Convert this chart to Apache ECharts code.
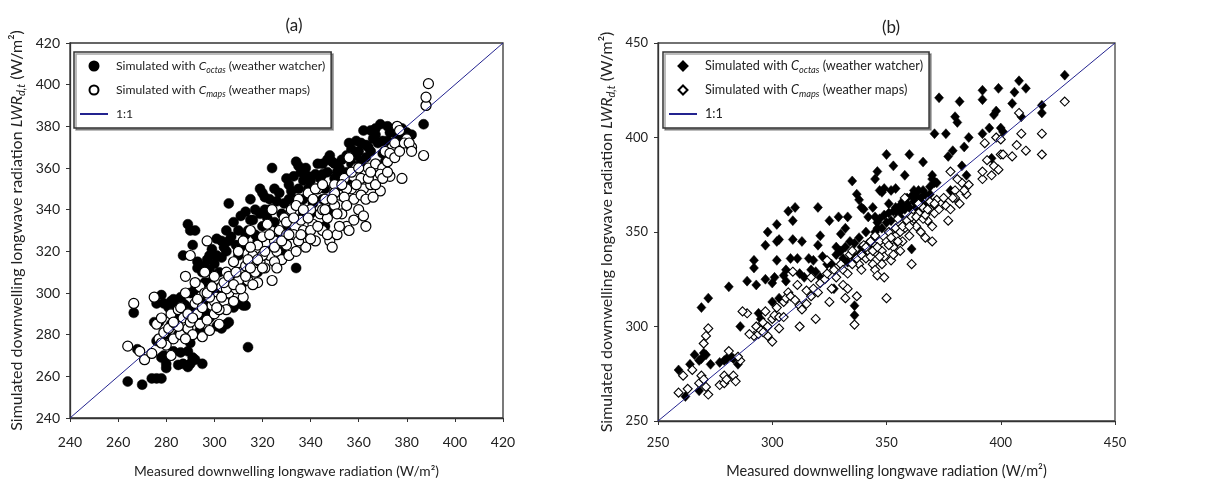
<!DOCTYPE html>
<html>
<head>
<meta charset="utf-8">
<script src="https://cdn.jsdelivr.net/npm/echarts@6/dist/echarts.min.js"></script>
<style>
  html, body { margin: 0; padding: 0; background: #ffffff; }
  #main { width: 1205px; height: 479px; }
</style>
</head>
<body>
<div id="main"></div>
<script>
// panel (a): measured vs simulated, circles
var ticksA = [240, 420, 20];
var octasA = [
  [264, 257.5], [270, 256], [274, 259], [276, 259], [278, 259], [280, 264], [280, 266], [285, 265.5],
  [287, 266], [289, 264.5], [290, 266], [291, 269], [292, 268], [289, 272], [290, 276], [295, 266],
  [286, 271.5], [283, 272], [278, 269], [279, 270], [276, 277], [275, 286], [276, 295], [278, 299],
  [279, 295], [281, 293], [283, 291], [285, 288], [287, 295], [288, 294], [288, 291], [290, 292],
  [292, 289], [294, 288], [296, 291], [298, 288], [300, 290], [301, 284], [303, 283], [305, 285],
  [306, 286], [308, 293], [310, 295], [312, 294], [313, 294], [314, 274], [266.5, 290.5], [268, 273],
  [282, 285], [287, 318], [289, 333], [290, 330], [291, 323], [292, 330], [293, 315], [293, 312],
  [295, 310], [296, 313], [297, 316], [298, 311], [300, 314], [301, 318], [302, 310], [303, 317],
  [304, 322], [305, 320], [306, 325], [306, 343], [308, 334], [310, 330], [311, 337], [313, 339],
  [315, 345], [316, 335], [317, 328], [319, 350], [320, 348], [321, 340], [322, 336], [323, 345],
  [324, 360], [325, 334], [326, 344], [328, 338], [330, 355], [331, 352], [332, 349], [333, 345],
  [334, 363], [335, 361], [336, 358], [337, 354], [338, 360], [339, 356], [340, 354], [342, 357],
  [343, 350], [344, 355], [345, 357], [346, 350], [347, 358], [348, 366], [349, 363], [350, 355],
  [351, 358], [352, 360], [354, 357], [355, 366], [356, 372], [357, 369], [358, 367], [359, 373],
  [360, 368], [361, 363], [362, 378], [363, 371], [364, 370], [365, 368], [366, 374], [367, 379],
  [368, 372], [369, 381], [370, 367], [371, 363], [372, 373], [373, 377], [374, 369], [376, 375],
  [378, 376], [380, 377], [382, 376], [387, 381], [388, 390], [334, 312], [300, 300], [298, 305],
  [296, 296], [294, 282], [303, 302], [312, 305], [318, 310], [322, 320], [327, 326], [330, 330],
  [340, 338], [345, 345], [348, 340], [346, 332], [352, 348], [356, 352], [337, 338], [328, 320],
  [318, 325], [310, 318], [306, 305], [285, 280], [280, 280], [283, 297], [277, 286], [291, 300],
  [314, 330], [320, 332], [282, 296], [284, 294], [286, 298], [288, 282], [290, 300], [292, 302],
  [294, 296], [296, 305], [298, 318], [299, 321], [301, 326], [303, 325], [305, 330], [307, 327],
  [309, 323], [311, 322], [313, 328], [315, 335], [317, 340], [319, 338], [321, 346], [323, 340],
  [325, 350], [327, 348], [329, 343], [331, 345], [333, 356], [335, 350], [337, 345], [339, 350],
  [341, 343], [343, 362], [345, 362], [347, 364], [350, 362], [353, 364], [355, 358], [357, 362],
  [359, 366], [361, 372], [363, 365], [365, 378], [367, 376], [370, 373], [372, 380], [375, 378],
  [378, 379]
];
var mapsA = [
  [264, 274.5], [266.5, 295], [269, 272], [271, 268], [274, 271], [275, 298], [276, 285], [277, 278],
  [278, 288], [279, 281], [280, 275], [281, 283], [282, 290], [283, 278], [284, 285], [285, 292],
  [286, 280], [287, 288], [288, 300], [288, 308], [289, 283], [290, 286], [290, 318], [291, 280],
  [292, 295], [293, 290], [294, 285], [294, 303], [295, 279], [296, 300], [297, 287], [297, 325],
  [298, 282], [299, 294], [300, 290], [300, 308], [301, 298], [302, 285], [303, 303], [304, 296],
  [305, 292], [305, 310], [306, 300], [307, 305], [308, 296], [308, 315], [309, 302], [310, 320],
  [311, 310], [312, 298], [312, 325], [313, 313], [314, 306], [315, 330], [316, 318], [317, 310],
  [318, 305], [318, 323], [319, 315], [320, 327], [321, 312], [322, 333], [323, 318], [324, 306],
  [324, 340], [325, 325], [326, 320], [327, 330], [328, 316], [329, 336], [330, 323], [331, 318],
  [332, 340], [333, 328], [334, 320], [335, 345], [336, 335], [337, 330], [338, 322], [339, 348],
  [340, 340], [341, 333], [342, 325], [343, 350], [344, 338], [345, 330], [346, 345], [347, 336],
  [348, 325], [349, 322], [350, 352], [350, 342], [351, 328], [352, 347], [353, 338], [354, 355],
  [355, 332], [356, 330], [356, 365], [357, 350], [358, 345], [359, 360], [360, 340], [361, 355],
  [362, 337], [362, 350], [363, 332], [364, 360], [365, 352], [366, 356], [367, 362], [368, 355],
  [369, 349], [370, 360], [372, 363], [373, 356], [374, 370], [375, 372], [376, 380], [377, 378],
  [378, 355], [380, 374], [382, 370], [387, 366], [388, 390], [388, 394], [389, 400.5], [285, 284],
  [288, 278], [282, 270], [278, 276], [300, 296], [302, 292], [296, 310], [292, 305], [310, 306],
  [314, 316], [320, 318], [325, 315], [330, 328], [335, 325], [340, 330], [345, 340], [350, 348],
  [355, 350], [315, 322], [305, 302], [298, 298], [283, 286], [286, 293], [289, 290], [291, 288],
  [293, 297], [295, 293], [297, 300], [299, 303], [301, 293], [303, 298], [304, 305], [306, 308],
  [308, 304], [309, 310], [311, 302], [313, 308], [315, 312], [316, 304], [318, 316], [320, 312],
  [321, 320], [323, 328], [325, 322], [326, 312], [328, 325], [330, 334], [331, 328], [333, 336],
  [334, 342], [336, 328], [337, 340], [339, 336], [340, 326], [341, 345], [342, 350], [343, 332],
  [345, 352], [346, 340], [347, 328], [349, 345], [351, 338], [352, 332], [353, 352], [354, 346],
  [355, 342], [357, 358], [358, 335], [359, 352], [360, 360], [361, 347], [363, 345], [364, 355],
  [365, 358], [366, 346], [367, 352], [369, 357], [370, 355], [371, 368], [372, 358], [373, 367],
  [375, 365], [377, 368], [379, 372], [381, 372], [382, 368]
];

// panel (b): measured vs simulated, diamonds
var ticksB = [250, 450, 50];
var octasB = [
  [259, 277], [262, 263], [264, 280], [266, 285], [268, 282], [269, 283], [269, 310], [270, 286],
  [271, 285], [272, 315], [273, 280], [268, 266], [277, 281], [279, 282], [280, 283], [281, 321],
  [282, 284], [283, 283], [285, 280], [286, 300], [289, 324], [292, 335], [292, 331], [293, 322],
  [294, 307], [295, 304], [297, 343], [298, 350], [297, 325], [300, 313], [301, 326], [302, 345],
  [302, 354], [303, 346], [302, 335], [303, 315], [305, 327], [306, 324], [307, 361], [308, 336],
  [309, 356], [309, 346], [310, 363], [311, 336], [312, 328], [313, 345], [316, 336], [317, 330],
  [319, 329], [320, 343], [320, 363], [321, 326], [321, 348], [322, 337], [325, 356], [326, 333],
  [327, 320], [328, 342], [329, 358], [330, 349], [331, 336], [333, 358], [334, 345], [335, 377],
  [336, 336], [336, 311], [336, 306], [337, 370], [338, 367], [339, 363], [340, 362], [342, 358],
  [343, 345], [344, 363], [345, 378], [346, 382], [347, 372], [348, 371], [349, 373], [350, 391],
  [351, 365], [352, 372], [353, 385], [354, 373], [355, 360], [356, 358], [357, 362], [358, 380],
  [359, 365], [360, 391], [361, 341], [362, 372], [363, 363], [365, 366], [366, 387], [368, 365],
  [369, 370], [370, 380], [371, 376], [371, 402], [373, 421], [376, 402], [377, 390], [378, 372],
  [379, 393], [380, 411], [381, 408], [382, 419], [383, 385], [384, 395], [385, 380], [386, 400],
  [392, 420], [392, 425], [392, 402], [395, 405], [396, 389], [397, 412], [398, 414], [399, 426],
  [400, 405], [401, 403], [405, 418], [406, 424], [408, 430], [409, 411], [411, 426], [418, 413],
  [418, 417], [428, 433], [340, 340], [342, 344], [345, 350], [348, 352], [350, 355], [352, 356],
  [355, 358], [358, 362], [360, 363], [362, 366], [365, 368], [367, 370], [345, 358], [346, 355],
  [343, 341], [338, 338], [335, 338], [333, 334], [330, 340], [332, 342], [336, 344], [338, 347],
  [339, 342], [341, 350], [344, 346], [346, 352], [347, 357], [349, 359], [351, 360], [353, 361],
  [354, 363], [356, 364], [357, 366], [359, 368], [361, 369], [363, 369], [364, 372], [366, 372],
  [369, 374], [370, 378], [372, 376], [332, 352], [328, 338], [324, 333], [318, 335], [314, 326],
  [306, 330], [300, 323]
];
var mapsB = [
  [259, 265], [261, 274], [263, 267], [265, 277], [268, 270], [269, 274], [270, 272], [270, 291],
  [271, 295], [272, 299], [272, 264], [271, 268], [277, 269], [279, 270], [279, 274], [280, 272],
  [281, 287], [283, 274], [284, 271], [286, 282], [289, 307], [292, 295], [293, 300], [294, 296],
  [295, 298], [296, 302], [297, 308], [298, 300], [300, 292], [300, 304], [301, 306], [302, 310],
  [303, 299], [303, 305], [305, 313], [306, 315], [307, 318], [308, 316], [309, 329], [310, 314],
  [311, 322], [312, 300], [312, 311], [313, 309], [315, 319], [317, 326], [318, 320], [319, 304],
  [320, 318], [321, 323], [323, 325], [324, 335], [324, 328], [325, 313], [326, 320], [327, 330],
  [328, 326], [330, 333], [331, 322], [332, 315], [333, 320], [334, 338], [335, 340], [336, 301],
  [337, 316], [338, 333], [339, 330], [340, 343], [341, 336], [342, 340], [343, 337], [344, 333],
  [345, 330], [345, 348], [346, 327], [347, 345], [348, 340], [349, 337], [349, 326], [350, 315],
  [350, 345], [351, 350], [352, 335], [353, 342], [354, 348], [355, 357], [356, 340], [357, 345],
  [358, 352], [358, 368], [360, 348], [361, 333], [362, 357], [363, 353], [364, 360], [365, 350],
  [366, 363], [367, 347], [368, 356], [369, 362], [370, 345], [370, 353], [371, 360], [372, 367],
  [374, 365], [376, 364], [377, 356], [378, 362], [378, 382], [380, 372], [380, 368], [382, 365],
  [383, 376], [385, 370], [386, 375], [392, 378], [392, 382], [393, 397], [394, 388], [396, 380],
  [397, 385], [398, 400], [399, 383], [400, 399], [400, 391], [401, 391], [405, 390], [407, 396],
  [408, 413], [409, 402], [411, 393], [418, 402], [418, 391], [428, 419], [331, 330], [333, 328],
  [335, 333], [337, 336], [339, 338], [341, 342], [343, 345], [344, 340], [346, 342], [347, 337],
  [348, 333], [351, 343], [352, 347], [353, 338], [354, 352], [355, 345], [356, 350], [357, 353],
  [359, 356], [360, 353], [361, 358], [363, 358], [364, 365], [366, 357], [367, 359], [368, 362],
  [369, 366], [371, 365], [373, 362], [375, 368], [379, 368], [381, 378], [384, 372], [315, 312],
  [317, 316], [305, 305], [298, 295], [296, 297], [290, 296], [285, 284], [287, 308]
];

var legendText = {
  octasA: 'Simulated with {i|C}{s|octas} (weather watcher)',
  mapsA: 'Simulated with {i|C}{s|maps} (weather maps)',
  lineA: '1:1',
  octasB: 'Simulated with {i|C}{s|octas} (weather watcher)',
  mapsB: 'Simulated with {i|C}{s|maps} (weather maps)',
  lineB: '1:1'
};

// legend icons padded to the 28x9 legend box so they keep their shape
var iconCircle = 'circle';
var iconDiamond = 'path://M0,0L0,0M14,0L18.5,4.5L14,9L9.5,4.5ZM28,9L28,9';

var chart = echarts.init(document.getElementById('main'));

function axisNameRich(size) {
  return {
    fontFamily: 'Lato', fontSize: size, color: '#222', lineHeight: 20,
    rich: {
      i: { fontFamily: 'Lato', fontSize: size, fontStyle: 'italic', color: '#222', lineHeight: 20 },
      s: { fontFamily: 'Lato', fontSize: size - 5, fontStyle: 'italic', color: '#222', lineHeight: 10, verticalAlign: 'bottom' }
    }
  };
}

function makeAxis(t, idx, isY, nameGap, nameSize, labelSize, margin) {
  return {
    type: 'value', gridIndex: idx, min: t[0], max: t[1], interval: t[2],
    name: isY ? 'Simulated downwelling longwave radiation {i|LWR}{s|d,t} (W/m²)' : 'Measured downwelling longwave radiation (W/m²)',
    nameLocation: 'middle', nameGap: nameGap, nameMoveOverlap: false,
    nameTextStyle: axisNameRich(nameSize),
    axisLine: { show: true, lineStyle: { color: '#333', width: 1.3 } },
    axisTick: { show: true, inside: false, length: 4, lineStyle: { color: '#333' } },
    axisLabel: { fontFamily: 'Lato', fontSize: labelSize, color: '#222', margin: margin },
    splitLine: { show: false }
  };
}

function makeLegend(names, left, fs, icon) {
  return {
    data: [
      { name: names[0], icon: icon },
      { name: names[1], icon: icon },
      { name: names[2], itemStyle: { opacity: 0 } }
    ],
    orient: 'vertical', left: left, top: 52,
    itemWidth: 28, itemHeight: 9, itemGap: 6, symbolKeepAspect: true,
    padding: [5, 6, 5, 5],
    borderColor: '#333', borderWidth: 1.5,
    backgroundColor: '#fff',
    shadowColor: 'rgba(0,0,0,0.35)', shadowOffsetX: 2, shadowOffsetY: 2, shadowBlur: 0,
    formatter: function (name) { return legendText[name]; },
    textStyle: {
      fontFamily: 'Lato', fontSize: fs, color: '#222', lineHeight: 18, padding: [0, 0, 0, 3],
      rich: {
        i: { fontFamily: 'Lato', fontSize: fs, fontStyle: 'italic', color: '#222', lineHeight: 18 },
        s: { fontFamily: 'Lato', fontSize: fs - 3.5, fontStyle: 'italic', color: '#222', lineHeight: 9, verticalAlign: 'bottom' }
      }
    }
  };
}

var option = {
  backgroundColor: '#ffffff',
  animation: false,
  title: [
    { text: '(a)', left: 289, top: 12, textAlign: 'center', textStyle: { fontFamily: 'Lato', fontSize: 17, fontWeight: 'normal', color: '#222' } },
    { text: '(b)', left: 886, top: 14, textAlign: 'center', textStyle: { fontFamily: 'Lato', fontSize: 17, fontWeight: 'normal', color: '#222' } }
  ],
  grid: [
    { left: 70, right: 702, top: 43, bottom: 61, outerBoundsMode: 'none', show: true, borderColor: '#333', borderWidth: 1.3, backgroundColor: 'transparent' },
    { left: 658, right: 90, top: 43, bottom: 58, outerBoundsMode: 'none', show: true, borderColor: '#444', borderWidth: 1.3, backgroundColor: 'transparent' }
  ],
  legend: [
    makeLegend(['octasA', 'mapsA', 'lineA'], 74, 12.2, iconCircle),
    makeLegend(['octasB', 'mapsB', 'lineB'], 663, 12.7, iconDiamond)
  ],
  xAxis: [
    makeAxis(ticksA, 0, false, 44, 13.8, 14, 17),
    makeAxis(ticksB, 1, false, 40, 14.5, 13, 15)
  ],
  yAxis: [
    makeAxis(ticksA, 0, true, 43, 16, 14, 10),
    makeAxis(ticksB, 1, true, 41, 16, 13, 10)
  ],
  series: [
    {
      name: 'octasA', type: 'scatter', xAxisIndex: 0, yAxisIndex: 0,
      symbol: 'circle', symbolSize: 10, data: octasA,
      itemStyle: { color: '#000', borderColor: '#000', borderWidth: 0.5, opacity: 1 }
    },
    {
      name: 'mapsA', type: 'scatter', xAxisIndex: 0, yAxisIndex: 0,
      symbol: 'circle', symbolSize: 10, data: mapsA,
      itemStyle: { color: '#fff', borderColor: '#000', borderWidth: 1.2, opacity: 1 }
    },
    {
      name: 'lineA', type: 'line', xAxisIndex: 0, yAxisIndex: 0,
      data: [[ticksA[0], ticksA[0]], [ticksA[1], ticksA[1]]],
      symbol: 'none', lineStyle: { color: '#23238f', width: 1 }, itemStyle: { color: '#23238f' }, z: 5
    },
    {
      name: 'octasB', type: 'scatter', xAxisIndex: 1, yAxisIndex: 1,
      symbol: 'diamond', symbolSize: [9, 10], data: octasB,
      itemStyle: { color: '#000', borderColor: '#000', borderWidth: 0.5, opacity: 1 }
    },
    {
      name: 'mapsB', type: 'scatter', xAxisIndex: 1, yAxisIndex: 1,
      symbol: 'diamond', symbolSize: [9, 9], data: mapsB,
      itemStyle: { color: '#fff', borderColor: '#000', borderWidth: 1.1, opacity: 1 }
    },
    {
      name: 'lineB', type: 'line', xAxisIndex: 1, yAxisIndex: 1,
      data: [[ticksB[0], ticksB[0]], [ticksB[1], ticksB[1]]],
      symbol: 'none', lineStyle: { color: '#23238f', width: 1 }, itemStyle: { color: '#23238f' }, z: 5
    }
  ]
};

chart.setOption(option);
</script>
</body>
</html>
